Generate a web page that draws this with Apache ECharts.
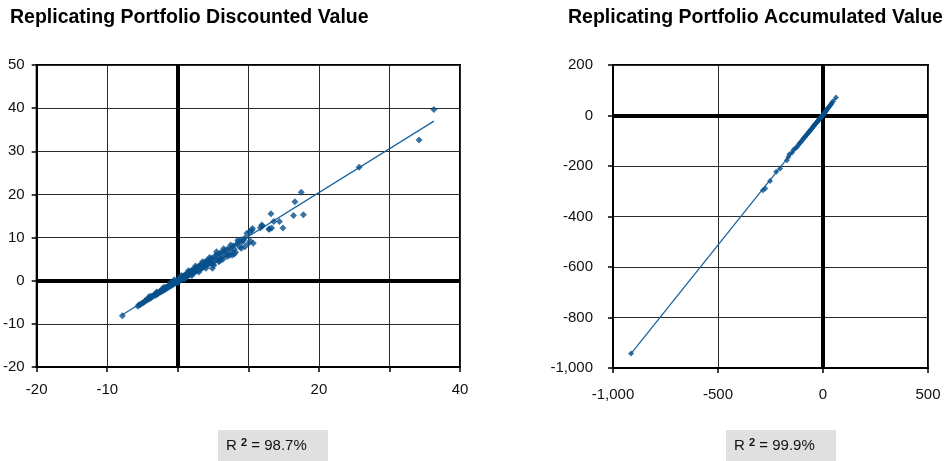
<!DOCTYPE html>
<html>
<head>
<meta charset="utf-8">
<script src="https://cdn.jsdelivr.net/npm/echarts@6/dist/echarts.min.js"></script>
<style>
  html, body { margin: 0; padding: 0; background: #fff; }
  #chart { width: 944px; height: 461px; }
</style>
</head>
<body>
<div id="chart"></div>
<script>
// Discounted value: portfolio (x) vs. liability (y) per scenario
const discX = [-7.85,-5.65,-5.5,-5.3,-5.1,-4.9,-4.7,-4.6,-4.4,-4.3,-4.1,-4.0,-3.8,-3.7,-3.5,-3.4,-3.2,-3.1,-3.0,-2.9,-2.8,-2.6,-2.5,-2.4,-2.3,-2.2,-2.1,-2.0,-1.9,-1.8,-1.7,-1.6,-1.5,-1.4,-1.3,-1.2,-1.1,-1.0,-0.9,-0.8,-0.7,-0.6,-0.5,-0.4,-0.3,-0.2,-0.1,0.0,0.1,0.2,
  0.3,0.4,0.5,0.6,0.7,0.8,0.9,1.0,1.1,1.2,1.3,1.4,1.5,1.6,1.7,1.8,1.9,2.0,2.1,2.2,2.3,2.4,2.5,2.6,2.7,2.8,2.9,3.0,3.1,3.2,3.3,3.4,3.5,3.6,3.7,3.8,3.9,4.0,4.1,4.2,4.4,4.5,4.6,4.8,4.9,5.0,5.1,5.2,5.4,5.5,5.7,5.8,5.9,6.0,6.2,6.3,6.4,6.6,6.8,7.0,7.1,7.3,7.4,7.6,7.7,7.9,8.0,8.2,8.4,8.6,8.8,9.0,9.1,9.3,9.5,9.8,10.0,10.2,10.3,10.5,10.6,10.7,9.5,11.7,12.0,11.9,12.9,13.0,13.3,13.6,14.4,14.9,13.2,16.4,17.8,16.6,17.5,25.7,34.2,36.3,
  0.5,1.0,1.5,2.0,2.5,3.0,3.5,4.0,4.5,5.0,5.5,6.0,6.5,7.0,7.5,8.0,8.5,9.0,-2.0,-3.0,-1.0,-4.0,-0.5,0.0];
const discY = [-8.1,-5.9,-5.6,-5.5,-5.2,-5.1,-4.9,-4.6,-4.5,-4.2,-4.3,-3.9,-4.0,-3.6,-3.6,-3.3,-3.4,-3.0,-3.2,-2.8,-3.0,-2.5,-2.7,-2.3,-2.5,-2.0,-2.3,-1.9,-2.1,-1.6,-1.9,-1.5,-1.7,-1.2,-1.5,-1.1,-1.3,-0.8,-1.1,-0.6,-0.9,-0.4,-0.7,-0.2,-0.5,0.0,-0.3,0.2,-0.1,0.4,
  0.1,0.7,0.3,0.9,0.4,1.1,0.6,1.3,0.8,1.5,1.0,1.8,1.2,2.0,1.4,2.2,1.6,2.4,1.7,2.6,2.0,2.8,2.1,3.0,2.3,3.2,2.5,3.4,2.6,3.6,2.8,3.9,3.0,4.0,3.2,4.3,3.4,4.5,3.6,4.7,3.9,4.9,4.1,5.2,2.9,4.4,3.6,5.6,4.8,6.0,4.9,4.4,6.3,5.2,6.6,5.5,5.0,6.9,6.0,7.3,6.2,5.9,7.6,6.8,5.9,8.1,7.3,6.6,8.5,9.0,7.8,9.5,9.0,9.4,9.9,11.0,8.6,11.3,9.2,11.7,12.1,8.7,7.9,12.3,12.7,12.9,11.9,12.0,12.2,13.7,13.7,12.2,15.5,15.1,15.3,18.3,20.5,26.3,32.6,39.7,
  1.2,0.4,2.3,1.2,3.4,2.0,4.4,2.9,5.4,3.8,6.7,4.6,7.4,5.6,8.3,6.2,9.4,7.5,-1.5,-2.6,-0.4,-3.6,0.2,-0.5];
// Fitted line endpoints (discounted)
const discTrendX = [-7.9, 36.3];
const discTrendY = [-7.95, 37.0];

// Accumulated value: portfolio (x) vs. liability (y) per scenario
const accX = [-914,-286,-275,-252,-223,-204,-172,-165,-160,-148,-141,-133,-125,-118,-112,-106,-100,-95,-90,-85,-80,-76,-72,-68,-64,-60,-56,-52,-48,-45,-42,-39,-36,-33,-30,-27,-24,-22,-20,-18,-16,-14,-12,-10,-8,-6,-4,-2,0,2,4,6,8,10,13,16,19,22,26,30,34,38,42,48,62];
const accY = [-943,-296,-289,-259,-223,-210,-177,-164,-153,-148,-137,-131,-126,-118,-110,-106,-99,-93,-88,-84,-78,-75,-70,-65,-62,-58,-53,-50,-46,-42,-40,-36,-34,-31,-28,-25,-22,-19,-17,-16,-13,-11,-10,-7,-6,-3,-2,1,2,4,7,9,11,14,17,20,24,28,32,36,40,45,50,56,71];
// Fitted line endpoints (accumulated)
const accTrendX = [-914, 62];
const accTrendY = [-943, 71];

const titles = ['Replicating Portfolio Discounted Value', 'Replicating Portfolio Accumulated Value'];
const rSquared = ['98.7%', '99.9%'];
const leftHiddenXTicks = [0, 10, 30];

const FONT = 'Liberation Sans, Arial, Helvetica, sans-serif';
const LABEL_SIZE = 15;
const BLUE = '#08508c';
const LINE_BLUE = '#1b64a0';

function pairs(xs, ys) { return xs.map((x, i) => [x, ys[i]]); }
function fmtThousands(v) { return v.toLocaleString('en-US'); }

function labelStyle(extra) {
  return Object.assign({ color: '#111', fontFamily: FONT, fontSize: LABEL_SIZE }, extra);
}

function axisCommon(extra) {
  return Object.assign({
    type: 'value',
    axisLine: { show: true, onZero: false, lineStyle: { color: '#000', width: 2 } },
    axisTick: { show: true, inside: false, length: 5, lineStyle: { color: '#000', width: 1.5 } },
    splitLine: { show: true, lineStyle: { color: '#2a2a2a', width: 1 } }
  }, extra);
}

const chart = echarts.init(document.getElementById('chart'), null, { renderer: 'canvas' });

const zeroLines = {
  silent: true,
  symbol: ['none', 'none'],
  label: { show: false },
  animation: false,
  lineStyle: { color: '#000', width: 4, type: 'solid' },
  data: [{ xAxis: 0 }, { yAxis: 0 }]
};

const titleStyle = { fontFamily: FONT, fontWeight: 'bold', fontSize: 19.5, color: '#000' };

chart.setOption({
  animation: false,
  backgroundColor: '#fff',
  title: [
    { text: titles[0], left: 5, top: 3, textStyle: titleStyle },
    { text: titles[1], left: 563, top: 3, textStyle: titleStyle }
  ],
  grid: [
    { left: 33, top: 65, width: 427, height: 302, show: true, borderColor: '#000', borderWidth: 2, backgroundColor: '#fff' },
    { left: 613, top: 65, width: 315, height: 303, show: true, borderColor: '#000', borderWidth: 2, backgroundColor: '#fff' }
  ],
  xAxis: [
    axisCommon({
      gridIndex: 0, min: -20, max: 40, interval: 10,
      axisLabel: labelStyle({ margin: 15,
        formatter: v => leftHiddenXTicks.indexOf(v) >= 0 ? '' : String(v) })
    }),
    axisCommon({
      gridIndex: 1, min: -1000, max: 500, interval: 500,
      axisLabel: labelStyle({ margin: 19, formatter: fmtThousands })
    })
  ],
  yAxis: [
    axisCommon({
      gridIndex: 0, min: -20, max: 50, interval: 10,
      axisLabel: labelStyle({ margin: 12 })
    }),
    axisCommon({
      gridIndex: 1, min: -1000, max: 200, interval: 200,
      axisLabel: labelStyle({ margin: 20, formatter: fmtThousands })
    })
  ],
  series: [
    { type: 'line', xAxisIndex: 0, yAxisIndex: 0, data: [], z: 1, markLine: zeroLines },
    { type: 'line', xAxisIndex: 1, yAxisIndex: 1, data: [], z: 1, markLine: zeroLines },
    {
      type: 'line', xAxisIndex: 0, yAxisIndex: 0, z: 4, showSymbol: false, silent: true,
      data: pairs(discTrendX, discTrendY), lineStyle: { color: LINE_BLUE, width: 1.3 }
    },
    {
      type: 'line', xAxisIndex: 1, yAxisIndex: 1, z: 4, showSymbol: false, silent: true,
      data: pairs(accTrendX, accTrendY), lineStyle: { color: LINE_BLUE, width: 1.3 }
    },
    {
      type: 'scatter', xAxisIndex: 0, yAxisIndex: 0, z: 5, symbol: 'diamond', symbolSize: 7,
      data: pairs(discX, discY), itemStyle: { color: BLUE }
    },
    {
      type: 'scatter', xAxisIndex: 1, yAxisIndex: 1, z: 5, symbol: 'diamond', symbolSize: 6,
      data: pairs(accX, accY), itemStyle: { color: BLUE }
    }
  ],
  graphic: [0, 1].map(i => ({
    type: 'group',
    left: i === 0 ? 218 : 726,
    top: 430,
    children: [
      { type: 'rect', shape: { x: 0, y: 0, width: 110, height: 31 }, style: { fill: '#e0e0e0' } },
      {
        type: 'text', x: 8, y: 16,
        style: {
          text: '{r|R }{s|2}{r| = ' + rSquared[i] + '}',
          verticalAlign: 'middle',
          rich: {
            r: { fontFamily: FONT, fontSize: 15, fill: '#111', color: '#111' },
            s: { fontFamily: FONT, fontSize: 11, fontWeight: 'bold', fill: '#111', color: '#111', verticalAlign: 'top', padding: [0, 0, 6, 0] }
          }
        }
      }
    ]
  }))
});
</script>
</body>
</html>
